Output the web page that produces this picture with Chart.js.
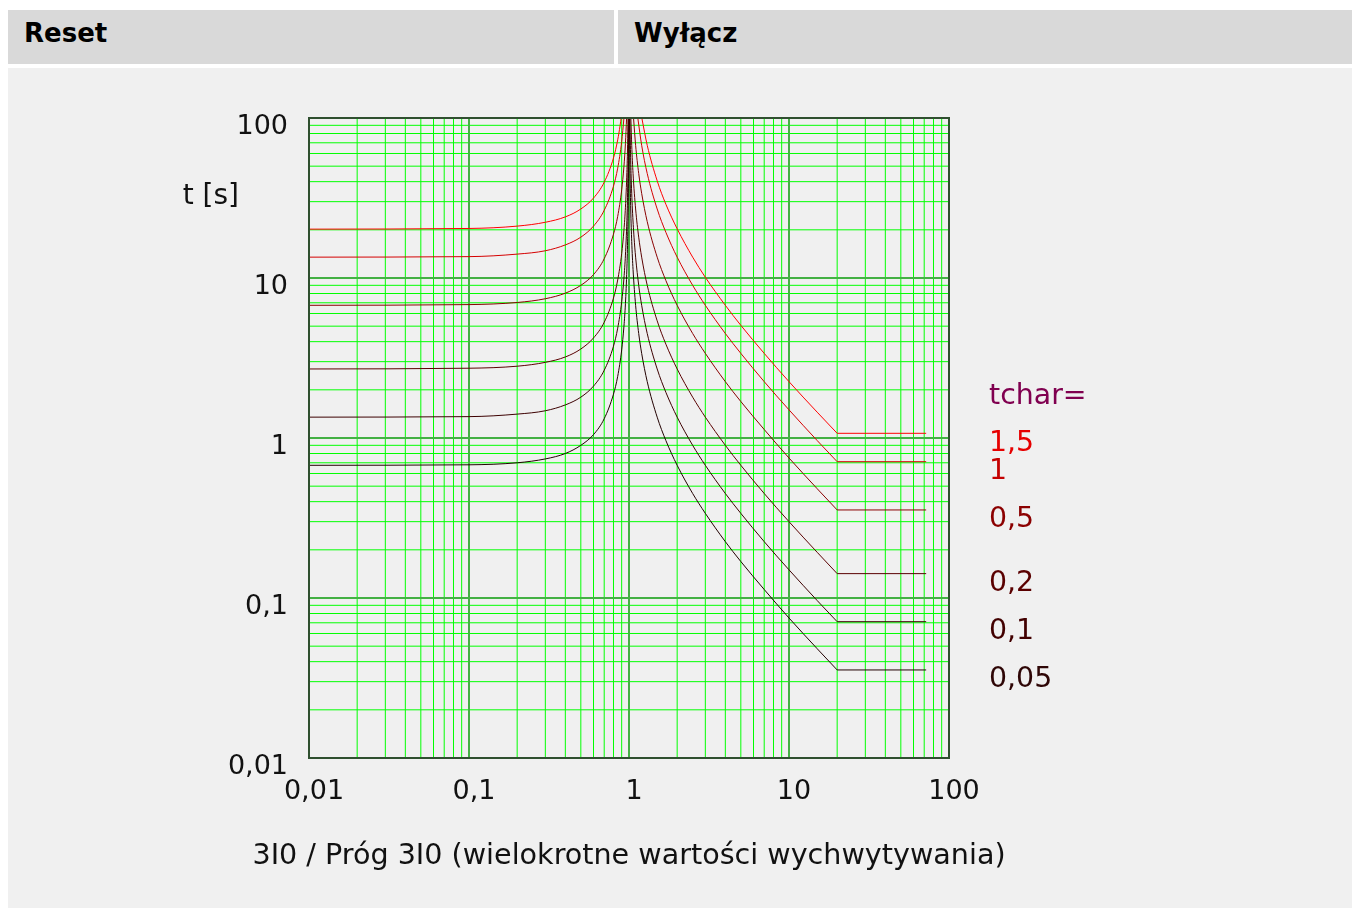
<!DOCTYPE html>
<html>
<head>
<meta charset="utf-8">
<script src="https://cdn.jsdelivr.net/npm/chart.js@4/dist/chart.umd.min.js"></script>
<style>
  body { margin: 0; background: #fff; font-family: "DejaVu Sans", sans-serif; }
  .head { position: absolute; top: 10px; height: 54px; line-height: 46px; background: #d9d9d9;
          font-weight: bold; font-size: 26px; color: #000; padding-left: 16px; box-sizing: border-box; }
  #panel { position: absolute; left: 8px; top: 68px; width: 1344px; height: 840px; background: #f0f0f0; }
  canvas { position: absolute; left: 0; top: 0; }
</style>
</head>
<body>
<div class="head" style="left:8px;width:606px;">Reset</div>
<div class="head" style="left:618px;width:734px;">Wyłącz</div>
<div id="panel"><canvas id="chart" width="1344" height="840"></canvas></div>
<script>
// tchar series (top to bottom)
const tcharValues = [1.5, 1, 0.5, 0.2, 0.1, 0.05];
const tcharLabels = ["1,5", "1", "0,5", "0,2", "0,1", "0,05"];

// axis ticks
const decadeTicks = [0.01, 0.1, 1, 10, 100];
const decadeLabels = ["0,01", "0,1", "1", "10", "100"];

// reset curves (I/Ip < 1)
const resetX_15 = [0.01, 0.1, 0.2, 0.3, 0.4, 0.5, 0.6, 0.7, 0.8, 0.85, 0.88, 0.893];
const resetT_15 = [20.2, 20.4, 21.1, 22.3, 24.1, 27.0, 31.6, 39.7, 56.3, 73.0, 89.8, 100];
const resetX_1 = [0.01, 0.1, 0.2, 0.3, 0.4, 0.5, 0.6, 0.7, 0.8, 0.85, 0.9, 0.93];
const resetT_1 = [13.5, 13.6, 14.1, 14.8, 16.1, 18.0, 21.1, 26.5, 37.5, 48.6, 71.1, 100];
const resetX_05 = [0.01, 0.1, 0.2, 0.3, 0.4, 0.5, 0.6, 0.7, 0.8, 0.85, 0.9, 0.93, 0.95, 0.966];
const resetT_05 = [6.75, 6.82, 7.03, 7.42, 8.04, 9.0, 10.5, 13.2, 18.8, 24.3, 35.5, 50.0, 69.2, 100];
const resetX_02 = [0.01, 0.1, 0.2, 0.3, 0.4, 0.5, 0.6, 0.7, 0.8, 0.85, 0.9, 0.93, 0.95, 0.97, 0.98, 0.986];
const resetT_02 = [2.7, 2.73, 2.81, 2.97, 3.21, 3.6, 4.22, 5.29, 7.5, 9.73, 14.2, 20.0, 27.7, 45.7, 68.2, 100];
const resetX_01 = [0.01, 0.1, 0.2, 0.3, 0.4, 0.5, 0.6, 0.7, 0.8, 0.85, 0.9, 0.93, 0.95, 0.97, 0.98, 0.99, 0.9932];
const resetT_01 = [1.35, 1.36, 1.41, 1.48, 1.61, 1.8, 2.11, 2.65, 3.75, 4.86, 7.1, 10.0, 13.9, 22.8, 34.1, 67.8, 100];
const resetX_005 = [0.01, 0.1, 0.2, 0.3, 0.4, 0.5, 0.6, 0.7, 0.8, 0.85, 0.9, 0.93, 0.95, 0.97, 0.98, 0.99, 0.995, 0.9966];
const resetT_005 = [0.675, 0.68, 0.70, 0.74, 0.80, 0.9, 1.05, 1.32, 1.88, 2.43, 3.55, 5.0, 6.92, 11.4, 17.0, 33.9, 67.7, 100];

// trip curves (I/Ip > 1) up to the knee at 20
const tripX_15 = [1.2025, 1.3, 1.5, 1.7, 2, 2.5, 3, 4, 5, 7, 10, 15, 20];
const tripT_15 = [100, 67.5, 40.5, 28.9, 20.3, 13.5, 10.1, 6.75, 5.06, 3.38, 2.25, 1.45, 1.07];
const tripX_1 = [1.135, 1.2, 1.3, 1.5, 1.7, 2, 2.5, 3, 4, 5, 7, 10, 15, 20];
const tripT_1 = [100, 67.5, 45, 27, 19.3, 13.5, 9.0, 6.75, 4.5, 3.38, 2.25, 1.5, 0.964, 0.711];
const tripX_05 = [1.0675, 1.1, 1.15, 1.2, 1.3, 1.5, 1.7, 2, 2.5, 3, 4, 5, 7, 10, 15, 20];
const tripT_05 = [100, 67.5, 45, 33.8, 22.5, 13.5, 9.64, 6.75, 4.5, 3.38, 2.25, 1.69, 1.13, 0.75, 0.482, 0.355];
const tripX_02 = [1.027, 1.04, 1.06, 1.1, 1.15, 1.2, 1.3, 1.5, 1.7, 2, 2.5, 3, 4, 5, 7, 10, 15, 20];
const tripT_02 = [100, 67.5, 45, 27, 18, 13.5, 9.0, 5.4, 3.86, 2.7, 1.8, 1.35, 0.9, 0.675, 0.45, 0.3, 0.193, 0.142];
const tripX_01 = [1.0135, 1.02, 1.03, 1.05, 1.075, 1.1, 1.15, 1.2, 1.3, 1.5, 1.7, 2, 2.5, 3, 4, 5, 7, 10, 15, 20];
const tripT_01 = [100, 67.5, 45, 27, 18, 13.5, 9.0, 6.75, 4.5, 2.7, 1.93, 1.35, 0.9, 0.675, 0.45, 0.338, 0.225, 0.15, 0.0964, 0.0711];
const tripX_005 = [1.00675, 1.01, 1.015, 1.025, 1.04, 1.06, 1.1, 1.15, 1.2, 1.3, 1.5, 1.7, 2, 2.5, 3, 4, 5, 7, 10, 15, 20];
const tripT_005 = [100, 67.5, 45, 27, 16.9, 11.3, 6.75, 4.5, 3.38, 2.25, 1.35, 0.964, 0.675, 0.45, 0.338, 0.225, 0.169, 0.113, 0.075, 0.0482, 0.0355];

// definite time part after the knee
const flatX = [20, 72];
const tripFlat = [1.07, 0.711, 0.355, 0.142, 0.0711, 0.0355];

const resetXs = [resetX_15, resetX_1, resetX_05, resetX_02, resetX_01, resetX_005];
const resetTs = [resetT_15, resetT_1, resetT_05, resetT_02, resetT_01, resetT_005];
const tripXs = [tripX_15, tripX_1, tripX_05, tripX_02, tripX_01, tripX_005];
const tripTs = [tripT_15, tripT_1, tripT_05, tripT_02, tripT_01, tripT_005];

// styles
const lineColors = ["#ff0000", "#d40000", "#8a0000", "#5a0000", "#3c0000", "#220000"];
const labelColors = ["#e60000", "#c40000", "#8b0000", "#5a0000", "#420000", "#2e0606"];
const majorGrid = "#44b044";
const minorGrid = "#00ff00";

// grid lines: 1..9 in every decade
const gridValues = [];
for (let d = 0; d < decadeTicks.length - 1; d++) {
  for (let m = 1; m <= 9; m++) gridValues.push(Number((decadeTicks[d] * m).toPrecision(6)));
}
gridValues.push(decadeTicks[decadeTicks.length - 1]);

function isDecade(v) {
  return decadeTicks.some(d => Math.abs(v / d - 1) < 1e-6);
}
function decadeLabel(v) {
  const i = decadeTicks.findIndex(d => Math.abs(v / d - 1) < 1e-6);
  return i >= 0 ? decadeLabels[i] : "";
}
function toPoints(xs, ts) {
  return xs.map((x, i) => ({ x: x, y: ts[i] }));
}

const datasets = [];
tcharValues.forEach((tc, i) => {
  const base = { borderColor: lineColors[i], borderWidth: 1, pointRadius: 0, fill: false };
  datasets.push(Object.assign({ label: "reset " + tcharLabels[i], data: toPoints(resetXs[i], resetTs[i]), cubicInterpolationMode: "monotone" }, base));
  datasets.push(Object.assign({ label: "trip " + tcharLabels[i], data: toPoints(tripXs[i], tripTs[i]), cubicInterpolationMode: "monotone" }, base));
  datasets.push(Object.assign({ label: "dt " + tcharLabels[i], data: toPoints(flatX, [tripFlat[i], tripFlat[i]]) }, base));
});

// grid drawn by hand: minor lines unaligned (soft), decades thicker
const gridPlugin = {
  id: "logGrid",
  beforeDatasetsDraw(c) {
    const ctx = c.ctx;
    const a = c.chartArea;
    const xs = c.scales.x, ys = c.scales.y;
    ctx.save();
    [false, true].forEach(major => {
      ctx.strokeStyle = major ? majorGrid : minorGrid;
      ctx.lineWidth = major ? 2 : 1;
      ctx.beginPath();
      gridValues.forEach(v => {
        if (isDecade(v) !== major) return;
        const px = xs.getPixelForValue(v);
        ctx.moveTo(px, a.top);
        ctx.lineTo(px, a.bottom);
        const py = ys.getPixelForValue(v);
        ctx.moveTo(a.left, py);
        ctx.lineTo(a.right, py);
      });
      ctx.stroke();
    });
    ctx.restore();
  },
  afterDatasetsDraw(c) {
    const ctx = c.ctx;
    const a = c.chartArea;
    ctx.save();
    ctx.strokeStyle = "#2f4f2f";
    ctx.lineWidth = 2;
    ctx.strokeRect(a.left, a.top, a.right - a.left, a.bottom - a.top);
    ctx.restore();
  }
};

const textPlugin = {
  id: "texts",
  afterDraw(c) {
    const ctx = c.ctx;
    const a = c.chartArea;
    const y = c.scales.y;
    ctx.save();
    ctx.fillStyle = "#111";
    ctx.font = "28px 'DejaVu Sans'";
    ctx.textBaseline = "middle";
    ctx.textAlign = "right";
    ctx.fillText("t [s]", a.left - 70, a.top + 79);
    ctx.textAlign = "center";
    ctx.font = "28.6px 'DejaVu Sans'";
    ctx.fillText("3I0 / Próg 3I0 (wielokrotne wartości wychwytywania)", (a.left + a.right) / 2, a.bottom + 99);

    // curve labels
    ctx.font = "28.4px 'DejaVu Sans'";
    ctx.textAlign = "left";
    const lx = a.right + 40;
    const y0 = y.getPixelForValue(tripFlat[0]) + 10;
    ctx.fillStyle = "#800050";
    ctx.fillText("tchar=", lx, y0 - 47);
    tcharLabels.forEach((lab, i) => {
      ctx.fillStyle = labelColors[i];
      ctx.fillText(lab, lx, y.getPixelForValue(tripFlat[i]) + 10);
    });
    ctx.restore();
  }
};

Chart.defaults.font.family = "'DejaVu Sans'";

const chart = new Chart(document.getElementById("chart").getContext("2d"), {
  type: "line",
  data: { datasets: datasets },
  options: {
    responsive: false,
    animation: false,
    devicePixelRatio: 1,
    layout: { padding: { left: 0, right: 403, top: 50, bottom: 90 } },
    plugins: { legend: { display: false }, tooltip: { enabled: false } },
    scales: {
      x: {
        type: "logarithmic",
        min: 0.01,
        max: 100,
        afterBuildTicks: (s) => { s.ticks = decadeTicks.map(v => ({ value: v })); },
        afterFit: (s) => { s.height = 60; },
        border: { display: false },
        grid: { display: false, drawTicks: false },
        ticks: { autoSkip: false, maxRotation: 0, padding: 18, labelOffset: 5, color: "#111", font: { size: 27 },
                 callback: (v) => decadeLabel(v) }
      },
      y: {
        type: "logarithmic",
        min: 0.01,
        max: 100,
        afterBuildTicks: (s) => { s.ticks = decadeTicks.map(v => ({ value: v })); },
        afterFit: (s) => { s.width = 301; },
        border: { display: false },
        grid: { display: false, drawTicks: false },
        ticks: { autoSkip: false, padding: 21, labelOffset: 9, color: "#111", font: { size: 27 },
                 callback: (v) => decadeLabel(v) }
      }
    }
  },
  plugins: [gridPlugin, textPlugin]
});
</script>
</body>
</html>
